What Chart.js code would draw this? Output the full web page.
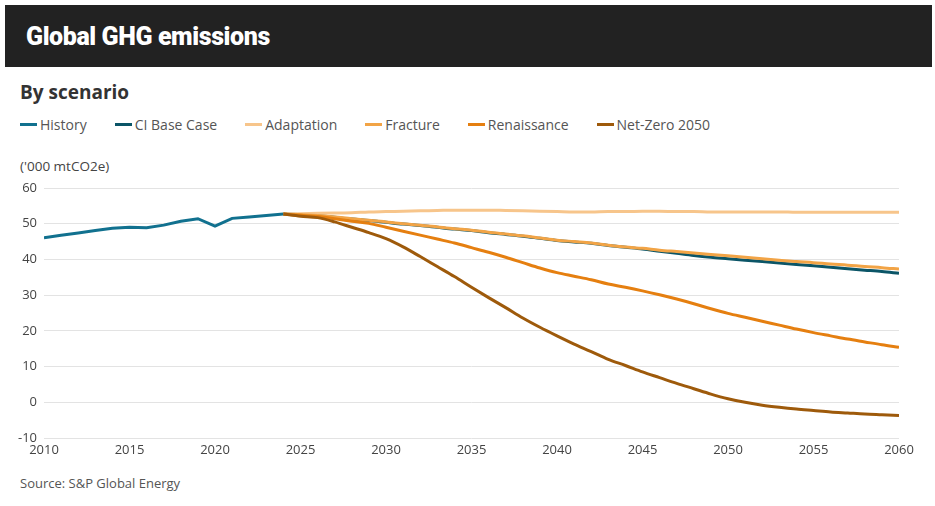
<!DOCTYPE html>
<html>
<head>
<meta charset="utf-8">
<script src="https://cdn.jsdelivr.net/npm/chart.js@4.4.1/dist/chart.umd.min.js"></script>
<style>
  body { margin: 0; background: #fff; font-family: "Open Sans", "Noto Sans", sans-serif; }
  #page { position: relative; width: 935px; height: 506px; overflow: hidden; }
  #header { position: absolute; left: 5px; top: 5px; width: 927px; height: 62px; background: #222; }
  #header h1 { margin: 0; position: absolute; left: 21px; top: 17px; font-family: Roboto, sans-serif; font-size: 25px; font-weight: 900; color: #fff; letter-spacing: -0.4px; }
  #subtitle { position: absolute; left: 20px; top: 79px; font-size: 19px; font-weight: 700; color: #333; }
  #legend { position: absolute; left: 20px; top: 115px; height: 18px; display: flex; font-size: 14px; color: #555; }
  .item { display: flex; align-items: center; margin-right: 28px; }
  .swatch { width: 17px; height: 3px; margin-right: 3px; }
  #unit { position: absolute; left: 20px; top: 157px; font-size: 13.5px; color: #444; }
  #chartBox { position: absolute; left: 0; top: 170px; width: 935px; height: 292px; }
  #source { position: absolute; left: 20px; top: 474px; font-size: 13px; color: #555; }
</style>
</head>
<body>
<div id="page">
  <div id="header"><h1>Global GHG emissions</h1></div>
  <div id="subtitle">By scenario</div>
  <div id="legend"></div>
  <div id="unit">('000 mtCO2e)</div>
  <div id="chartBox"><canvas id="graficoGHG"></canvas></div>
  <div id="source">Source: S&amp;P Global Energy</div>
</div>
<script>
// years
const historyYears = [2010, 2011, 2012, 2013, 2014, 2015, 2016, 2017, 2018, 2019, 2020, 2021, 2022, 2023, 2024];
const forecastYears = [2024, 2025, 2026, 2027, 2028, 2029, 2030, 2031, 2032, 2033, 2034, 2035, 2036, 2037, 2038, 2039, 2040, 2041, 2042,
  2043, 2044, 2045, 2046, 2047, 2048, 2049, 2050, 2051, 2052, 2053, 2054, 2055, 2056, 2057, 2058, 2059, 2060];
const xTicks = [2010, 2015, 2020, 2025, 2030, 2035, 2040, 2045, 2050, 2055, 2060];
const yTicks = [-10, 0, 10, 20, 30, 40, 50, 60];

// values ('000 mtCO2e)
const history = [46.1, 46.8, 47.4, 48.1, 48.7, 49.0, 48.9, 49.6, 50.7, 51.4, 49.3, 51.5, 51.9, 52.3, 52.7];
const ciBaseCase = [52.7, 52.6, 52.3, 51.8, 51.3, 50.9, 50.4, 49.9, 49.5, 49.0, 48.5, 48.1, 47.5, 47.0, 46.5, 45.9, 45.3, 44.9, 44.5,
  43.9, 43.4, 42.9, 42.3, 41.7, 41.1, 40.6, 40.2, 39.8, 39.4, 39.0, 38.6, 38.2, 37.8, 37.4, 37.0, 36.6, 36.1];
const adaptation = [52.7, 52.8, 52.9, 53.0, 53.1, 53.3, 53.4, 53.5, 53.6, 53.7, 53.8, 53.8, 53.8, 53.7, 53.6, 53.5, 53.4, 53.3, 53.3,
  53.4, 53.4, 53.5, 53.5, 53.4, 53.4, 53.3, 53.3, 53.3, 53.3, 53.3, 53.2, 53.2, 53.2, 53.2, 53.2, 53.2, 53.2];
const fracture = [52.7, 52.6, 52.3, 51.9, 51.4, 51.0, 50.5, 50.0, 49.6, 49.1, 48.6, 48.2, 47.6, 47.1, 46.6, 46.0, 45.4, 45.0, 44.6,
  44.0, 43.5, 43.1, 42.6, 42.2, 41.8, 41.4, 41.0, 40.6, 40.2, 39.8, 39.4, 39.1, 38.7, 38.4, 38.0, 37.7, 37.3];
const renaissance = [52.7, 52.4, 52.0, 51.4, 50.7, 50.1, 49.0, 47.9, 46.8, 45.7, 44.6, 43.3, 42.0, 40.6, 39.1, 37.6, 36.3, 35.3, 34.3,
  33.1, 32.2, 31.2, 30.1, 28.9, 27.6, 26.2, 24.9, 23.8, 22.7, 21.6, 20.5, 19.5, 18.6, 17.7, 16.9, 16.1, 15.4];
const netZero2050 = [52.7, 52.1, 51.7, 50.5, 49.0, 47.5, 45.8, 43.5, 40.8, 38.0, 35.2, 32.2, 29.3, 26.5, 23.6, 21.0, 18.6, 16.3, 14.2,
  12.0, 10.3, 8.5, 6.9, 5.3, 3.8, 2.3, 1.0, 0.0, -0.8, -1.4, -1.9, -2.3, -2.7, -3.0, -3.3, -3.5, -3.7];

const series = [
  { label: 'History', years: historyYears, values: history, color: '#11718f', order: 1 },
  { label: 'CI Base Case', years: forecastYears, values: ciBaseCase, color: '#0b5567', order: 5 },
  { label: 'Adaptation', years: forecastYears, values: adaptation, color: '#f7c58b', order: 4 },
  { label: 'Fracture', years: forecastYears, values: fracture, color: '#f2a446', order: 3 },
  { label: 'Renaissance', years: forecastYears, values: renaissance, color: '#e57f10', order: 2 },
  { label: 'Net-Zero 2050', years: forecastYears, values: netZero2050, color: '#9e5a0b', order: 0 }
];

// leyenda
const legend = document.getElementById('legend');
series.forEach(function (s) {
  const item = document.createElement('div');
  item.className = 'item';
  item.innerHTML = '<span class="swatch" style="background:' + s.color + '"></span>' + s.label;
  legend.appendChild(item);
});

const ctx = document.getElementById('graficoGHG');
new Chart(ctx, {
  type: 'line',
  data: {
    datasets: series.map(function (s) {
      return {
        label: s.label,
        data: s.years.map(function (y, i) { return { x: y, y: s.values[i] }; }),
        borderColor: s.color,
        borderWidth: 3,
        pointRadius: 0,
        tension: s.label === 'History' ? 0 : 0.4,
        cubicInterpolationMode: s.label === 'History' ? 'default' : 'monotone',
        order: s.order,
        fill: false
      };
    })
  },
  options: {
    responsive: true,
    maintainAspectRatio: false,
    animation: false,
    layout: { padding: { top: 18, right: 36, left: 0, bottom: 0 } },
    plugins: {
      legend: { display: false },
      tooltip: { enabled: false }
    },
    scales: {
      x: {
        type: 'linear',
        min: 2010,
        max: 2060,
        afterBuildTicks: function (scale) {
          scale.ticks = xTicks.map(function (v) { return { value: v }; });
        },
        afterFit: function (scale) { scale.height = 24; },
        grid: { display: false, drawTicks: false },
        border: { display: false },
        ticks: {
          color: '#444',
          font: { family: 'Open Sans', size: 13 },
          padding: 4,
          maxRotation: 0,
          callback: function (v) { return String(v); }
        }
      },
      y: {
        min: -10,
        max: 60,
        afterBuildTicks: function (scale) {
          scale.ticks = yTicks.map(function (v) { return { value: v }; });
        },
        afterFit: function (scale) { scale.width = 44; },
        grid: { color: '#e3e3e3', lineWidth: 1, drawTicks: false },
        border: { display: false },
        ticks: {
          color: '#444',
          font: { family: 'Open Sans', size: 13 },
          padding: 7
        }
      }
    }
  }
});
</script>
</body>
</html>
